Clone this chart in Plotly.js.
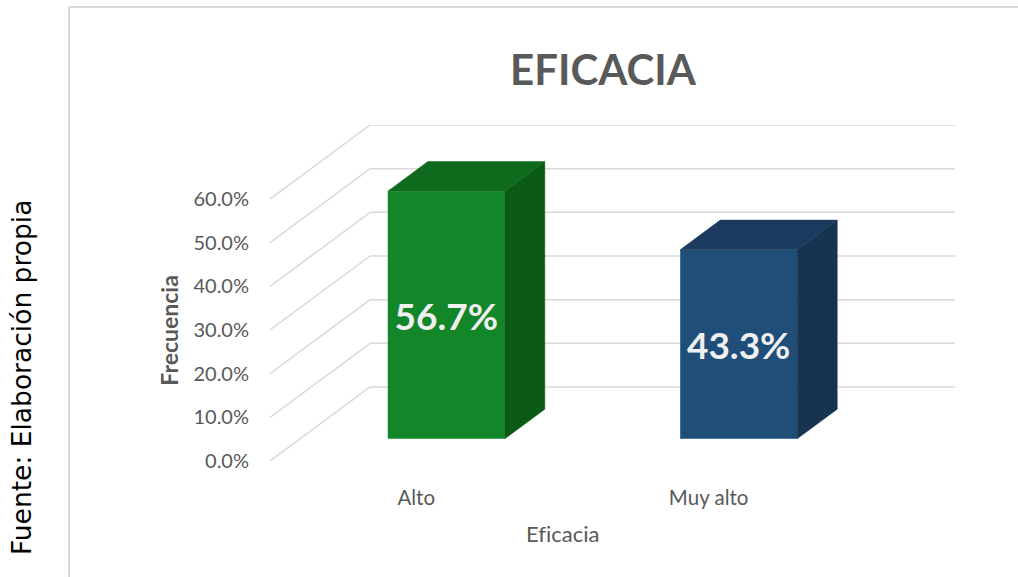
<!DOCTYPE html>
<html>
<head>
<meta charset="utf-8">
<script src="https://cdn.plot.ly/plotly-3.0.1.min.js"></script>
<style>
  html, body { margin: 0; padding: 0; background: #ffffff; }
  #chart { width: 1018px; height: 577px; }
</style>
</head>
<body>
<div id="chart"></div>
<script>
// ---- data ----
const categories = ['Alto', 'Muy alto'];
const values = [0.567, 0.433];
const yTickValues = [0, 0.1, 0.2, 0.3, 0.4, 0.5, 0.6];
const chartTitle = 'EFICACIA';
const xTitle = 'Ef\u200Cicacia';
const yTitle = 'Frecuencia';
const sourceNote = 'Fuente: Elaboración propia';

// ---- styles ----
const frontColors = ['#13862A', '#1F4E79'];
const sideColors = ['#0B5A16', '#17334F'];
const topColors = ['#0E6A1C', '#1A3B5E'];
const gridColor = '#D9D9D9';
const textGray = '#595959';

// oblique depth projection (in axis units)
const KX = 0.3425, KY = 0.1696;   // shift for full depth
const D0 = 0.3, D1 = 0.7;         // bar front / back depth
const HALF = 0.2;                 // half bar width
function P(x, v, d) { return [x + d * KX, v + d * KY]; }

const xs = categories.map((c, i) => i);
const traces = [];
const shapes = [];

// wall gridlines (left wall + back wall)
const xLeft = -0.5, xRight = xs[xs.length - 1] + 0.5;
yTickValues.forEach(v => {
  const a = P(xLeft, v, 0), b = P(xLeft, v, 1), c = P(xRight, v, 1);
  shapes.push({type: 'line', xref: 'x', yref: 'y', x0: a[0], y0: a[1], x1: b[0], y1: b[1],
               line: {color: gridColor, width: 1.5}, layer: 'below'});
  shapes.push({type: 'line', xref: 'x', yref: 'y', x0: b[0], y0: b[1], x1: c[0], y1: c[1],
               line: {color: gridColor, width: 1.5}, layer: 'below'});
});

// frame of the chart area
shapes.push({type: 'line', xref: 'paper', yref: 'paper', x0: -0.2934, x1: 1.1, y0: 1.351, y1: 1.351,
             line: {color: '#D9D9D9', width: 2}});
shapes.push({type: 'line', xref: 'paper', yref: 'paper', x0: -0.2934, x1: -0.2934, y0: 1.351, y1: -0.4,
             line: {color: '#D9D9D9', width: 2}});

// side and top faces
xs.forEach((xi, i) => {
  const v = values[i];
  const x0 = xi - HALF, x1 = xi + HALF;
  const side = [P(x1, 0, D0), P(x1, v, D0), P(x1, v, D1), P(x1, 0, D1), P(x1, 0, D0)];
  const top = [P(x0, v, D0), P(x1, v, D0), P(x1, v, D1), P(x0, v, D1), P(x0, v, D0)];
  [[side, sideColors[i]], [top, topColors[i]]].forEach(([poly, col]) => {
    traces.push({
      type: 'scatter', mode: 'lines', fill: 'toself', fillcolor: col,
      x: poly.map(p => p[0]), y: poly.map(p => p[1]),
      line: {color: col, width: 0.5}, hoverinfo: 'skip', showlegend: false
    });
  });
});

// front faces
traces.push({
  type: 'bar',
  x: xs, y: values,
  base: D0 * KY,
  width: 2 * HALF,
  offset: -HALF + D0 * KX,
  marker: {color: frontColors, line: {width: 0}},
  text: values.map(v => (v * 100).toFixed(1) + '%'),
  textposition: 'inside',
  insidetextanchor: 'middle',
  textangle: 0,
  constraintext: 'none',
  textfont: {family: 'Lato', size: 37, weight: 'bold', color: '#F0F0F0'},
  hoverinfo: 'skip', showlegend: false
});

const layout = {
  width: 1018, height: 577, autosize: false,
  margin: {l: 270, r: 63, t: 125, b: 116, pad: 0},
  paper_bgcolor: '#ffffff', plot_bgcolor: 'rgba(0,0,0,0)',
  showlegend: false,
  title: {
    text: chartTitle, xref: 'container', yref: 'container',
    x: 603 / 1018, y: 1 - 70 / 577, xanchor: 'center', yanchor: 'middle',
    font: {family: 'Lato', size: 42, weight: 'bold', color: textGray}
  },
  xaxis: {
    range: [xLeft, xRight + KX],
    tickvals: xs, ticktext: categories,
    showgrid: false, zeroline: false, showline: false, ticks: '',
    ticklabelstandoff: 22,
    tickfont: {family: 'Lato', size: 20.5, color: textGray},
    fixedrange: true
  },
  yaxis: {
    range: [0, yTickValues[yTickValues.length - 1] + KY],
    tickvals: yTickValues, tickformat: '.1%',
    showgrid: false, zeroline: false, showline: false, ticks: '',
    ticklabelstandoff: 20,
    tickfont: {family: 'Lato', size: 20, color: textGray},
    fixedrange: true
  },
  shapes: shapes,
  annotations: [
    {text: yTitle, xref: 'paper', yref: 'y', x: -0.148, y: 0.3, textangle: -90,
     showarrow: false, xanchor: 'center', yanchor: 'middle',
     font: {family: 'Lato', size: 23, weight: 'bold', color: textGray}},
    {text: xTitle, xref: 'x', yref: 'paper', x: 0.5, y: (461 - 533) / 336,
     showarrow: false, xanchor: 'center', yanchor: 'middle',
     font: {family: 'Lato', size: 22, color: textGray}},
    {text: sourceNote, xref: 'paper', yref: 'paper', x: (21 - 270) / 685, y: (461 - 378) / 336,
     textangle: -90, showarrow: false, xanchor: 'center', yanchor: 'middle',
     font: {family: 'DejaVu Sans', size: 26.5, color: '#000000'}}
  ]
};

Plotly.newPlot('chart', traces, layout, {displayModeBar: false, staticPlot: true});
</script>
</body>
</html>
